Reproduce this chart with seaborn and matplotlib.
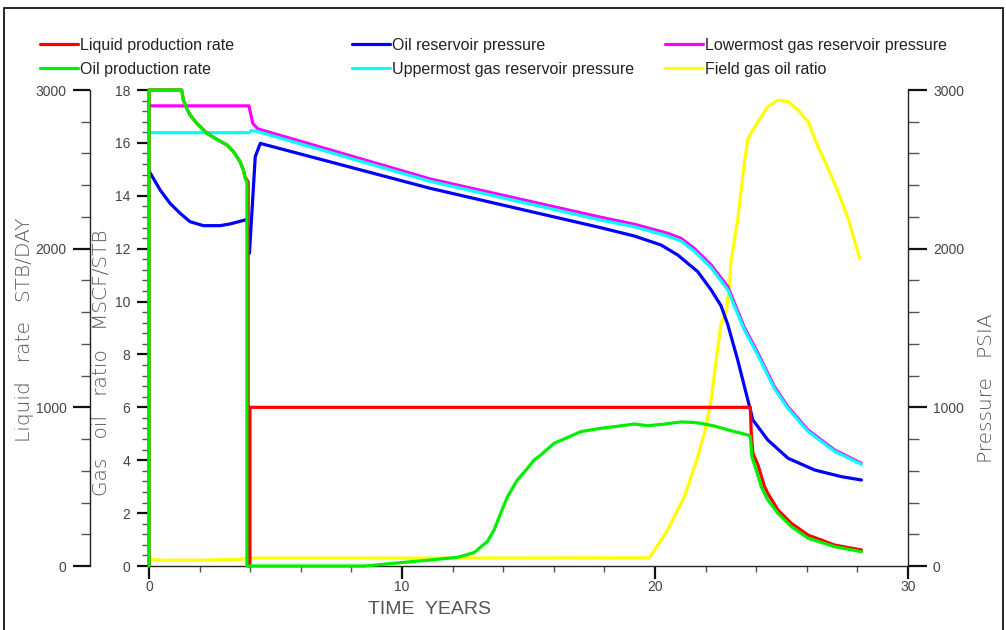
import matplotlib
matplotlib.use('Agg')
import matplotlib.pyplot as plt
from matplotlib.ticker import MultipleLocator
from matplotlib.patches import Rectangle
import seaborn as sns

# ---------------- data ----------------
# Liquid production rate, STB/DAY (left outer axis)
liq_t = [0, 0, 1.29, 1.36, 1.49, 1.62, 1.89, 2.29, 2.68, 3.08, 3.34, 3.6, 3.73, 3.8, 3.92, 3.92,
         3.99, 3.99, 23.77, 23.8, 23.87, 24.07, 24.33, 24.46, 24.86, 25.39, 26.05, 27.1, 28.16]
liq_v = [0, 3000, 3000, 2937, 2885, 2843, 2790, 2727, 2689, 2654, 2611, 2548, 2496, 2450, 2420, 0,
         0, 1000, 1000, 850, 710, 637, 500, 458, 353, 269, 195, 132, 101]

# Oil production rate, STB/DAY (left outer axis)
oil_t = [0, 0, 1.29, 1.36, 1.49, 1.62, 1.89, 2.29, 2.68, 3.08, 3.34, 3.6, 3.73, 3.8, 3.87, 3.87,
         8.5, 8.88, 9.94, 11.13, 12.19, 12.84, 13.37, 13.64, 13.9, 14.17, 14.56, 14.96, 15.22,
         15.49, 16.01, 17.07, 17.86, 18.39, 18.92, 19.18, 19.71, 20.3, 21.03, 21.5, 21.82, 22.35,
         23.14, 23.67, 23.77, 23.83, 24.0, 24.2, 24.46, 24.86, 25.39, 26.05, 27.1, 28.16]
oil_v = [0, 3000, 3000, 2937, 2885, 2843, 2790, 2727, 2689, 2654, 2611, 2548, 2496, 2444, 2420, 0,
         0, 5, 21, 38, 55, 84, 153, 227, 332, 437, 542, 616, 668,
         700, 773, 847, 868, 878, 889, 895, 884, 893, 908, 905, 899, 882,
         847, 826, 815, 689, 605, 500, 416, 332, 248, 175, 122, 90]

# Oil reservoir pressure, PSIA (right axis)
opr_t = [0, 0.44, 0.83, 1.23, 1.62, 2.15, 2.81, 3.21, 3.8, 3.88, 3.97, 4.2, 4.4, 4.53, 11.1,
         17.86, 19.18, 20.24, 20.9, 21.69, 22.22, 22.61, 22.88, 23.27, 23.67, 23.87, 24.46,
         25.26, 26.31, 27.37, 28.16]
opr_v = [2490, 2370, 2286, 2223, 2170, 2145, 2145, 2156, 2181, 2185, 1971, 2580, 2664, 2658, 2381,
         2132, 2080, 2023, 1960, 1855, 1740, 1640, 1520, 1298, 1046, 920, 794,
         679, 605, 563, 542]

# Uppermost gas reservoir pressure, PSIA (right axis)
upg_t = [0, 3.97, 4.05, 4.3, 11.1, 17.86, 19.18, 20.5, 21.03, 21.55, 22.22, 22.88, 23.54, 24.07,
         24.72, 25.25, 26.05, 27.1, 28.16]
upg_v = [2731, 2731, 2745, 2738, 2425, 2180, 2138, 2080, 2048, 1985, 1880, 1740, 1485, 1328,
         1118, 994, 848, 723, 641]

# Lowermost gas reservoir pressure, PSIA (right axis)
lwg_t = [0, 3.95, 4.1, 4.3, 11.1, 17.86, 19.18, 20.5, 21.03, 21.55, 22.22, 22.88, 23.54, 24.07,
         24.72, 25.25, 26.05, 27.1, 28.16]
lwg_v = [2900, 2900, 2790, 2755, 2440, 2198, 2154, 2097, 2065, 2002, 1897, 1760, 1500, 1341,
         1130, 1004, 857, 731, 647]

# Field gas oil ratio, MSCF/STB (left inner axis)
gor_t = [0, 0.5, 1.0, 2.0, 3.0, 3.5, 4.0, 10.0, 19.78, 20.5, 21.16, 21.69, 21.95, 22.22, 22.42,
         22.61, 22.81, 22.94, 23.0, 23.14, 23.27, 23.41, 23.54, 23.67, 23.94, 24.2, 24.46, 24.86,
         25.26, 25.65, 26.05, 26.44, 26.84, 27.23, 27.63, 28.09]
gor_v = [0.25, 0.22, 0.22, 0.22, 0.24, 0.24, 0.30, 0.30, 0.31, 1.36, 2.62, 4.13, 5.02, 6.28, 7.79,
         9.18, 9.6, 10.56, 11.5, 12.33, 13.1, 14.25, 15.3, 16.15, 16.61, 16.99, 17.37, 17.62,
         17.56, 17.25, 16.8, 15.86, 15.04, 14.16, 13.15, 11.64]

legend_labels = ["Liquid production rate", "Oil production rate",
                 "Oil reservoir pressure", "Uppermost gas reservoir pressure",
                 "Lowermost gas reservoir pressure", "Field gas oil ratio"]
x_ticks = [0, 10, 20, 30]
rate_ticks = [0, 1000, 2000, 3000]
gor_ticks = [0, 2, 4, 6, 8, 10, 12, 14, 16, 18]
press_ticks = [0, 1000, 2000, 3000]

# ---------------- styling ----------------
sns.set_style('white')
plt.rcParams['font.family'] = ['Liberation Sans', 'DejaVu Sans']
TXT = '#444444'

W, H = 1006, 630
fig = plt.figure(figsize=(W / 100, H / 100), dpi=100)


def fx(px):
    return px / W


def fy(py):
    return 1 - py / H


X0, X1, YT, YB = 149, 908, 90, 566
ax = fig.add_axes([fx(X0), fy(YB), (X1 - X0) / W, (YB - YT) / H])
ax.patch.set_alpha(0)
axp = ax.twinx()
axl = ax.twinx()

LW = 2.3
# GOR (drawn first, underneath)
sns.lineplot(x=gor_t, y=gor_v, ax=ax, color='#ffff00', linewidth=LW, estimator=None,
             sort=False, clip_on=False, legend=False)
h_gor = ax.lines[-1]
# Pressures
sns.lineplot(x=lwg_t, y=lwg_v, ax=axp, color='#ff00ff', linewidth=LW, estimator=None,
             sort=False, clip_on=False, legend=False)
h_lwg = axp.lines[-1]
sns.lineplot(x=upg_t, y=upg_v, ax=axp, color='#00ffff', linewidth=LW, estimator=None,
             sort=False, clip_on=False, legend=False)
h_upg = axp.lines[-1]
sns.lineplot(x=opr_t, y=opr_v, ax=axp, color='#0000ff', linewidth=LW, estimator=None,
             sort=False, clip_on=False, legend=False)
h_opr = axp.lines[-1]
# Rates
sns.lineplot(x=liq_t, y=liq_v, ax=axl, color='#ff0000', linewidth=LW, estimator=None,
             sort=False, clip_on=False, legend=False)
h_liq = axl.lines[-1]
sns.lineplot(x=oil_t, y=oil_v, ax=axl, color='#00ee00', linewidth=LW, estimator=None,
             sort=False, clip_on=False, legend=False)
h_oil = axl.lines[-1]

for a in (ax, axp, axl):
    a.set_xlim(0, 30)
    a.set_xlabel('')
    a.set_ylabel('')
    for s in a.spines.values():
        s.set_visible(False)
        s.set_linewidth(1.0)
        s.set_color('#222222')

ax.set_ylim(0, 18)
axp.set_ylim(0, 3000)
axl.set_ylim(0, 3000)

# x axis
ax.spines['bottom'].set_visible(True)
ax.set_xticks(x_ticks)
ax.xaxis.set_minor_locator(MultipleLocator(2))
ax.tick_params(axis='x', which='major', direction='out', length=9, width=1.6, color='#111111',
               labelsize=10, labelcolor=TXT, pad=1, bottom=True)
ax.tick_params(axis='x', which='minor', direction='out', length=4, width=1.0, color='#555555',
               bottom=True)

# GOR axis (inner left)
ax.spines['left'].set_visible(True)
ax.set_yticks(gor_ticks)
ax.yaxis.set_minor_locator(MultipleLocator(0.4))
ax.tick_params(axis='y', which='major', direction='out', length=8.5, width=1.6, color='#111111',
               labelsize=10, labelcolor=TXT, pad=5, left=True)
ax.tick_params(axis='y', which='minor', direction='out', length=5, width=1.0, color='#555555',
               left=True)

# Pressure axis (right)
axp.spines['right'].set_visible(True)
axp.set_yticks(press_ticks)
axp.yaxis.set_minor_locator(MultipleLocator(200))
axp.tick_params(axis='y', which='major', direction='out', length=14, width=1.6, color='#111111',
                labelsize=10, labelcolor=TXT, pad=4, right=True)
axp.tick_params(axis='y', which='minor', direction='out', length=8, width=1.0, color='#555555',
                right=True)
axp.tick_params(axis='x', which='both', bottom=False, labelbottom=False)

# Liquid rate axis (outer left)
axl.spines['left'].set_visible(True)
axl.spines['left'].set_position(('axes', (90 - X0) / (X1 - X0)))
axl.yaxis.set_ticks_position('left')
axl.yaxis.set_label_position('left')
axl.set_yticks(rate_ticks)
axl.yaxis.set_minor_locator(MultipleLocator(200))
axl.tick_params(axis='y', which='major', direction='out', length=12, width=1.6, color='#111111',
                labelsize=10, labelcolor=TXT, pad=5, left=True, right=False)
axl.tick_params(axis='y', which='minor', direction='out', length=6.5, width=1.0, color='#555555',
                left=True, right=False)
axl.tick_params(axis='x', which='both', bottom=False, labelbottom=False)

# axis titles
lab_kw = dict(color='#555555', rotation=90, ha='center', va='center', fontsize=14.5,
              family=['DejaVu Sans'], fontweight='light')
fig.text(fx(25), fy(330), 'Liquid   rate   STB/DAY', **lab_kw)
fig.text(fx(102), fy(363), 'Gas   oil   ratio   MSCF/STB', **lab_kw)
fig.text(fx(986), fy(388), 'Pressure   PSIA', **lab_kw)
fig.text(fx(430), fy(610), 'TIME  YEARS', color='#555555', ha='center', va='center',
         fontsize=14)

# legends (three columns at fixed positions)
handles = [h_liq, h_oil, h_opr, h_upg, h_lwg, h_gor]
for i, px in enumerate([40, 352, 665]):
    fig.legend(handles[2 * i:2 * i + 2], legend_labels[2 * i:2 * i + 2], loc='upper left',
               bbox_to_anchor=(fx(px), fy(38)), frameon=False, fontsize=11.5,
               handlelength=2.35, handletextpad=0.15, labelspacing=0.55, borderpad=0,
               borderaxespad=0, labelcolor='#222222')

# outer frame
fig.patches.append(Rectangle((fx(4), fy(660)), (1003 - 4) / W, (660 - 8) / H,
                             transform=fig.transFigure, fill=False, lw=1.2,
                             ec='black', clip_on=False))

fig.savefig('out.png', dpi=100)
